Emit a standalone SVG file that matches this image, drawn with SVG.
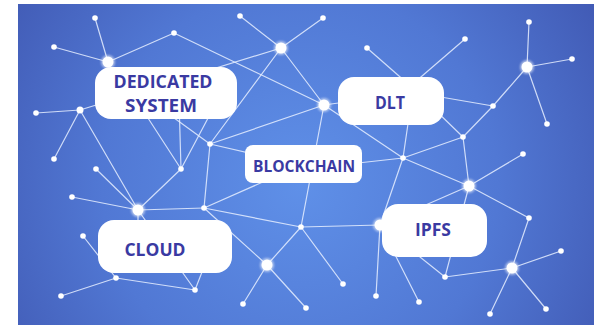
<svg xmlns="http://www.w3.org/2000/svg" width="594" height="325" viewBox="0 0 594 325">
  <defs>
    <radialGradient id="bg" cx="300" cy="185" r="360" gradientUnits="userSpaceOnUse">
      <stop offset="0" stop-color="#5f90e8"/>
      <stop offset="0.55" stop-color="#5178d4"/>
      <stop offset="1" stop-color="#4058b2"/>
    </radialGradient>
    <filter id="glow" x="-1" y="-1" width="3" height="3">
      <feGaussianBlur stdDeviation="1.2"/>
    </filter>
  </defs>
  <style>
    .edge { stroke: #e6eeff; stroke-width: 1.2; stroke-opacity: 0.85; fill: none; stroke-linecap: round; }
    .dot { fill: #ffffff; }
    .halo { fill: #ffffff; opacity: 0.55; filter: url(#glow); }
    .box { fill: #ffffff; }
    .label { fill: #3a3aa2; font-family: "Open Sans", "Liberation Sans", sans-serif; font-weight: 700; text-anchor: middle; }
  </style>

  <rect x="0" y="0" width="594" height="325" fill="#ffffff"/>
  <rect x="18" y="4" width="576" height="321" fill="url(#bg)"/>

  <!-- network links -->
  <g id="connectors" class="edge">
    <path d="M108 62L95 18M108 62L54 47M108 62L174 33"/>
    <path d="M174 33L324 105"/>
    <path d="M281 48L240 16M281 48L323 18M281 48L324 105M281 48L210 144M281 48L80 110"/>
    <path d="M80 110L36 113M80 110L54 159M80 110L138 210"/>
    <path d="M138 210L96 169M138 210L72 197M138 210L181 169M138 210L204 208M138 210L195 290M138 210L138 245"/>
    <path d="M181 169L179 100M181 169L135 98M181 169L215 105"/>
    <path d="M210 144L204 208M210 144L324 105M210 144L300 165M210 144L170 115"/>
    <path d="M204 208L301 227M204 208L290 170M204 208L267 265"/>
    <path d="M301 227L267 265M301 227L343 284M301 227L380 225M301 227L324 105"/>
    <path d="M267 265L243 304M267 265L306 308"/>
    <path d="M380 225L376 296M380 225L403 158M380 225L445 277M380 225L419 302M380 225L469 186"/>
    <path d="M403 158L324 105M403 158L469 186M403 158L463 137M403 158L340 165M403 158L410 110"/>
    <path d="M463 137L430 105M463 137L493 106M463 137L469 186"/>
    <path d="M493 106L527 67M493 106L400 90"/>
    <path d="M527 67L529 22M527 67L572 59M527 67L547 124"/>
    <path d="M465 39L400 95M367 48L415 90M324 105L360 100"/>
    <path d="M469 186L523 154M469 186L529 218M469 186L445 277"/>
    <path d="M512 268L529 218M512 268L561 251M512 268L445 277M512 268L490 314M512 268L546 309"/>
    <path d="M116 278L83 236M116 278L61 296M116 278L195 290M195 290L216 236"/>
  </g>

  <!-- junction points -->
  <g id="points">
    <g class="halo">
      <circle cx="108" cy="62" r="7"/>
      <circle cx="281" cy="48" r="7"/>
      <circle cx="324" cy="105" r="7"/>
      <circle cx="527" cy="67" r="7"/>
      <circle cx="138" cy="210" r="7"/>
      <circle cx="267" cy="265" r="7"/>
      <circle cx="380" cy="225" r="7"/>
      <circle cx="469" cy="186" r="7"/>
      <circle cx="512" cy="268" r="7"/>
    </g>
    <g class="dot">
      <circle cx="108" cy="62" r="5.5"/>
      <circle cx="281" cy="48" r="5.5"/>
      <circle cx="324" cy="105" r="5.5"/>
      <circle cx="527" cy="67" r="5.5"/>
      <circle cx="138" cy="210" r="5.5"/>
      <circle cx="267" cy="265" r="5.5"/>
      <circle cx="380" cy="225" r="5.5"/>
      <circle cx="469" cy="186" r="5.5"/>
      <circle cx="512" cy="268" r="5.5"/>

      <circle cx="95" cy="18" r="2.8"/>
      <circle cx="54" cy="47" r="2.8"/>
      <circle cx="174" cy="33" r="2.8"/>
      <circle cx="240" cy="16" r="2.8"/>
      <circle cx="323" cy="18" r="2.8"/>
      <circle cx="367" cy="48" r="2.8"/>
      <circle cx="465" cy="39" r="2.8"/>
      <circle cx="529" cy="22" r="2.8"/>
      <circle cx="572" cy="59" r="2.8"/>
      <circle cx="493" cy="106" r="2.8"/>
      <circle cx="547" cy="124" r="2.8"/>
      <circle cx="36" cy="113" r="2.8"/>
      <circle cx="80" cy="110" r="3.5"/>
      <circle cx="54" cy="159" r="2.8"/>
      <circle cx="96" cy="169" r="2.8"/>
      <circle cx="72" cy="197" r="2.8"/>
      <circle cx="181" cy="169" r="2.8"/>
      <circle cx="210" cy="144" r="2.8"/>
      <circle cx="204" cy="208" r="2.8"/>
      <circle cx="301" cy="227" r="2.8"/>
      <circle cx="243" cy="304" r="2.8"/>
      <circle cx="306" cy="308" r="2.8"/>
      <circle cx="343" cy="284" r="2.8"/>
      <circle cx="376" cy="296" r="2.8"/>
      <circle cx="403" cy="158" r="2.8"/>
      <circle cx="463" cy="137" r="2.8"/>
      <circle cx="523" cy="154" r="2.8"/>
      <circle cx="529" cy="218" r="2.8"/>
      <circle cx="561" cy="251" r="2.8"/>
      <circle cx="445" cy="277" r="2.8"/>
      <circle cx="419" cy="302" r="2.8"/>
      <circle cx="490" cy="314" r="2.8"/>
      <circle cx="546" cy="309" r="2.8"/>
      <circle cx="83" cy="236" r="2.8"/>
      <circle cx="61" cy="296" r="2.8"/>
      <circle cx="116" cy="278" r="2.8"/>
      <circle cx="195" cy="290" r="2.8"/>
    </g>
  </g>

  <!-- labelled nodes -->
  <g id="dedicated-system">
    <rect class="box" x="95" y="67" width="142" height="52" rx="16"/>
    <text class="label" x="163" y="88" font-size="18" textLength="99" lengthAdjust="spacingAndGlyphs">DEDICATED</text>
    <text class="label" x="161" y="112" font-size="18" textLength="72" lengthAdjust="spacingAndGlyphs">SYSTEM</text>
  </g>

  <g id="dlt">
    <rect class="box" x="338" y="77" width="106" height="48" rx="16"/>
    <text class="label" x="390" y="109" font-size="18" textLength="30" lengthAdjust="spacingAndGlyphs">DLT</text>
  </g>

  <g id="blockchain">
    <rect class="box" x="245" y="145" width="117" height="38" rx="8"/>
    <text class="label" x="304" y="172" font-size="16" textLength="102" lengthAdjust="spacingAndGlyphs">BLOCKCHAIN</text>
  </g>

  <g id="ipfs">
    <rect class="box" x="382" y="204" width="105" height="53" rx="16"/>
    <text class="label" x="433" y="236" font-size="18" textLength="36" lengthAdjust="spacingAndGlyphs">IPFS</text>
  </g>

  <g id="cloud">
    <rect class="box" x="98" y="220" width="134" height="53" rx="16"/>
    <text class="label" x="155" y="256" font-size="18" textLength="61" lengthAdjust="spacingAndGlyphs">CLOUD</text>
  </g>
</svg>
